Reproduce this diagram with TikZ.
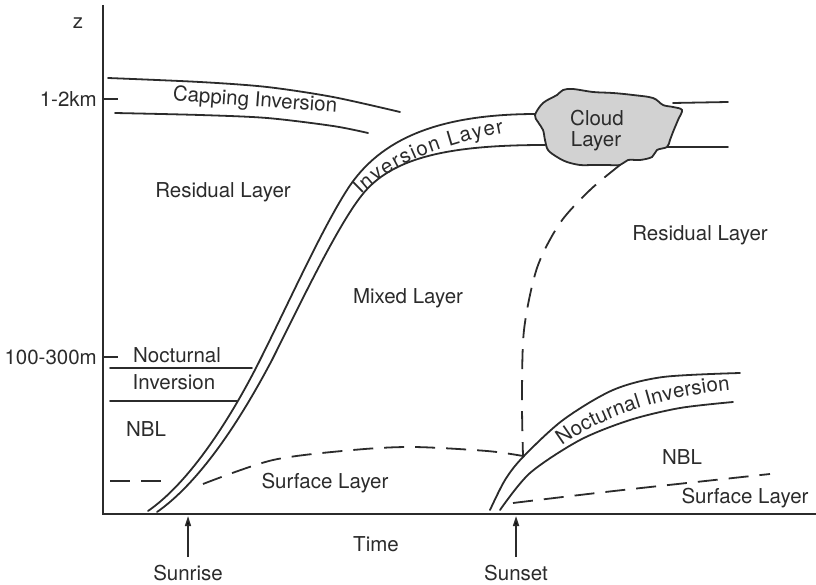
\documentclass[tikz,border=0pt]{standalone}
\usepackage{fontspec}
\setmainfont{TeX Gyre Heros}
\usetikzlibrary{arrows.meta,decorations.text}
\definecolor{ink}{HTML}{2B2B2B}
\definecolor{cloudfill}{HTML}{D2D2D2}
\newcommand\lblfont{\fontsize{20.5}{22}\selectfont}
\begin{document}
\begin{tikzpicture}[x=1pt,y=-1pt,
  curve/.style={draw=ink,line width=1.8pt,line cap=round},
  axisline/.style={draw=ink,line width=2.2pt},
  dashcurve/.style={draw=ink,line width=1.8pt,dash pattern=on 20pt off 11pt},
  lbl/.style={text=ink,inner sep=0pt,font=\lblfont},
  sunarrow/.style={draw=ink,line width=1.6pt,-{Triangle[length=10pt,width=6pt]}},
  bandtext/.style={decorate,decoration={text along path,text color=ink,
      text={|\lblfont|#1},text align={fit to path}}}]
\useasboundingbox (0,0) rectangle (816,585);

% axes
\coordinate (ztop) at (103,5);
\coordinate (origin) at (103,514);
\coordinate (tend) at (816,514);
\draw[axisline] (ztop) -- (origin) -- (tend);
\coordinate (tickkm) at (103,99);  \coordinate (tickkmE) at (118,99);
\coordinate (tickm) at (103,357);  \coordinate (tickmE) at (118,357);
\draw[axisline] (tickkm) -- (tickkmE);
\draw[axisline] (tickm) -- (tickmE);
\node[lbl] (zlab) at (78,23) {z};
\node[lbl,anchor=east] (kmlab) at (97,99) {1-2km};
\node[lbl,anchor=east] (mlab) at (97,357) {100-300m};

% capping inversion (left)
\draw[curve] plot[smooth] coordinates {(108,78) (200,82) (267,87) (333,97) (400,112)};
\draw[curve] plot[smooth] coordinates {(115,113) (200,115) (267,118) (333,126) (368,133)};
\node[lbl,rotate=-4] (caplab) at (255,101) {Capping Inversion};

% growing inversion layer capping the mixed layer
\draw[curve] (148,511) .. controls (200,475) and (245,390) .. (260,360)
                       .. controls (290,300) and (322,229) .. (347,190)
                       .. controls (380,138) and (440,114) .. (537,114);
\draw[curve] (157,512) .. controls (210,475) and (255,392) .. (272,360)
                       .. controls (302,300) and (338,225) .. (362,195)
                       .. controls (392,157) and (450,145) .. (545,145);
\path[bandtext={Inversion Layer}] (361,195) .. controls (388,167) and (436,146) .. (504,133);

% capping lines continuing past the cloud
\draw[curve] (673,103) -- (728,102);
\draw[curve] (667,147) -- (728,147);

% cloud layer
\draw[ink,line width=1.8pt,fill=cloudfill] plot[smooth cycle,tension=0.55] coordinates {
  (535,115) (543,103) (557,95) (563,90) (573,89) (593,92) (613,93) (633,95)
  (653,98) (663,105) (673,107) (682,110) (678,120) (673,132) (670,140) (667,147)
  (657,150) (652,157) (640,160) (628,160) (620,165) (607,165) (593,165) (580,165)
  (567,162) (557,157) (548,150) (545,140) (543,130) (538,122)};
\node[lbl,anchor=base] (cloudA) at (597,126) {Cloud};
\node[lbl,anchor=base] (cloudB) at (596,147) {Layer};

% left nocturnal inversion and NBL
\draw[curve] (110,368) -- (252,368);
\draw[curve] (110,401) -- (237,401);
\node[lbl] (nocA) at (177,355) {Nocturnal};
\node[lbl] (nocB) at (174,382) {Inversion};
\node[lbl] (nblA) at (146,429) {NBL};
\draw[dashcurve] (110,481) -- (167,481);

% daytime surface layer top
\draw[dashcurve] plot[smooth] coordinates {(203,484) (273,460) (353,450) (413,447) (487,451) (523,456)};

% mixed layer top decaying after sunset
\draw[dashcurve] plot[smooth] coordinates {(620,165) (590,190) (560,223) (537,268) (524,330) (522,400) (523,456)};

% evening nocturnal inversion
\draw[curve] plot[smooth] coordinates {(490,510) (505,480) (523,457) (563,420) (613,390) (663,377) (740,373)};
\draw[curve] plot[smooth] coordinates {(500,510) (530,473) (580,440) (630,420) (680,408) (733,402)};
\path[bandtext={Nocturnal Inversion}] (562,446) .. controls (595,421) and (652,398) .. (730,390);
\node[lbl] (nblB) at (682,457) {NBL};
\draw[dashcurve] plot[smooth] coordinates {(513,503) (614,491) (770,474)};

% region labels
\node[lbl] (resA) at (223,192) {Residual Layer};
\node[lbl] (resB) at (700,235) {Residual Layer};
\node[lbl] (mixed) at (408,298) {Mixed Layer};
\node[lbl] (surfA) at (325,483) {Surface Layer};
\node[lbl] (surfB) at (745,498) {Surface Layer};

% time axis annotations
\node[lbl] (timelab) at (376,544) {Time};
\node[lbl] (sunrise) at (188,573) {Sunrise};
\node[lbl] (sunset) at (516,573) {Sunset};
\coordinate (riseTip) at (188,516);
\coordinate (setTip) at (516,516);
\draw[sunarrow] (sunrise.north |- 0,557) -- (riseTip);
\draw[sunarrow] (sunset.north |- 0,557) -- (setTip);
\end{tikzpicture}
\end{document}
